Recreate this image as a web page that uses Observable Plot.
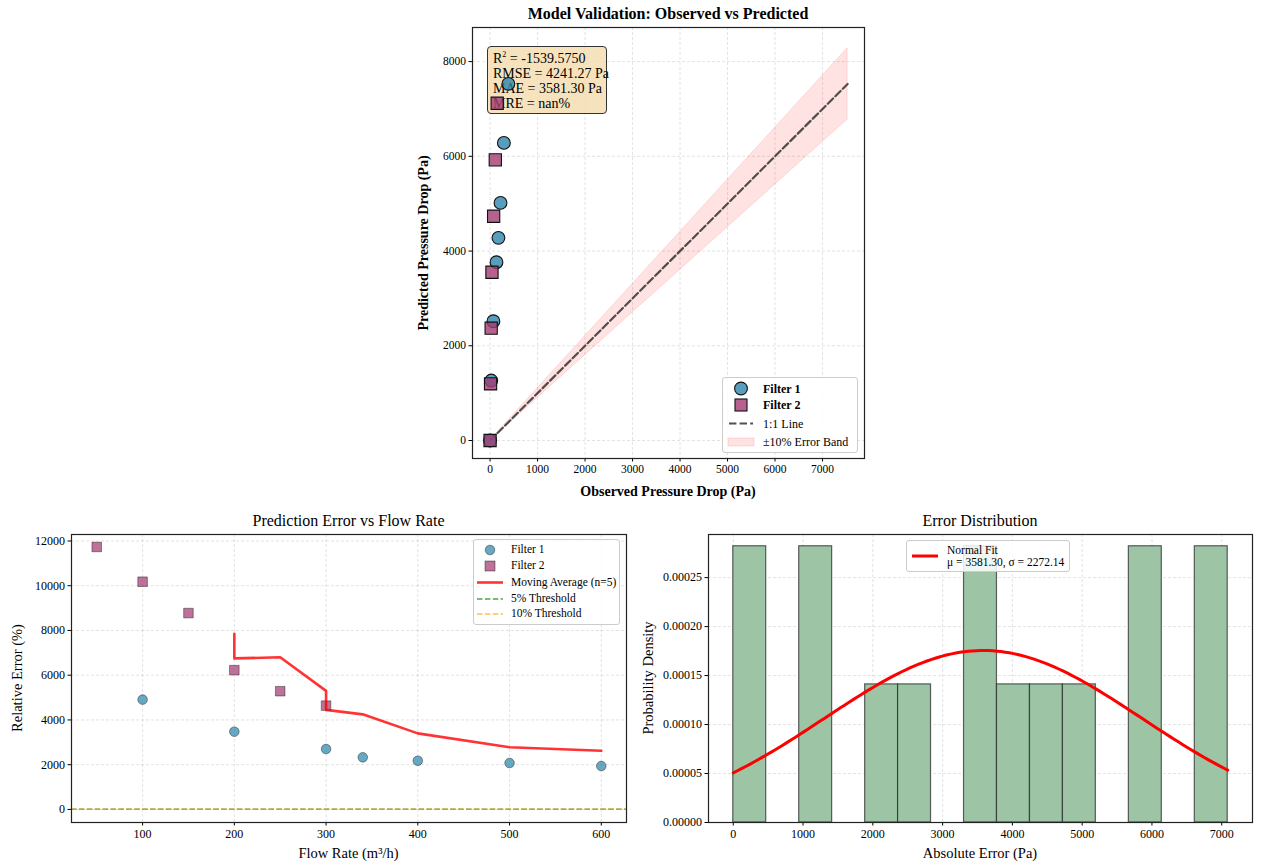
<!DOCTYPE html>
<html><head><meta charset="utf-8">
<script src="https://cdn.jsdelivr.net/npm/d3@7"></script>
<script src="https://cdn.jsdelivr.net/npm/@observablehq/plot@0.6"></script>
<style>
body{margin:0;background:#fff;font-family:"Liberation Serif","Times New Roman",serif;}
#fig{position:relative;width:1268px;height:868px;overflow:hidden;background:#fff;}
.t{position:absolute;white-space:nowrap;color:#000;line-height:1;}
.box{position:absolute;box-sizing:border-box;}
</style></head><body><div id="fig"></div>
<script>
// ---------- data ----------
const f1Observed = [0, 25, 70, 135, 176, 220, 291, 385];
const f1Predicted = [0, 1266, 2518, 3764, 4279, 5017, 6284, 7529];
const f2Observed = [0, 10, 23, 40, 75, 110, 150];
const f2Predicted = [0, 1197, 2371, 3553, 4735, 5925, 7120];
const refLineX = [0, 7529];
const refLineY = [0, 7529];
const bandLow = [0, 6776];
const bandHigh = [0, 8282];

const flowF1 = [100, 200, 300, 340, 400, 500, 600];
const relErrF1 = [4908, 3475, 2700, 2328, 2176, 2073, 1939];
const flowF2 = [50, 100, 150, 200, 250, 300];
const relErrF2 = [11733, 10179, 8777, 6225, 5284, 4640];
const maFlow = [200, 200, 250, 300, 300, 340, 400, 500, 600];
const maErr = [7850, 6750, 6800, 5300, 4450, 4250, 3400, 2780, 2620];
const thresholds = [5, 10];

const histBinStart = [0, 472, 945, 1417, 1890, 2362, 2834, 3307, 3779, 4252, 4724, 5196, 5669, 6141, 6614];
const histBinEnd   = [472, 945, 1417, 1890, 2362, 2834, 3307, 3779, 4252, 4724, 5196, 5669, 6141, 6614, 7086];
const histDensity  = [0.000282, 0, 0.000282, 0, 0.000141, 0.000141, 0, 0.000282, 0.000141, 0.000141, 0.000141, 0, 0.000282, 0, 0.000282];
const fitMu = 3581.30, fitSigma = 2272.14, fitMin = 0, fitMax = 7086;

const topXTicks = [0, 1000, 2000, 3000, 4000, 5000, 6000, 7000];
const topYTicks = [0, 2000, 4000, 6000, 8000];
const blXTicks = [100, 200, 300, 400, 500, 600];
const blYTicks = [0, 2000, 4000, 6000, 8000, 10000, 12000];
const brXTicks = [0, 1000, 2000, 3000, 4000, 5000, 6000, 7000];
const brYTicks = [0, 0.00005, 0.0001, 0.00015, 0.0002, 0.00025];

// ---------- helpers ----------
const fig = document.getElementById('fig');
const FONT = '"Liberation Serif","Times New Roman",serif';
function place(node, left, top, z) {
  node.style.position = 'absolute'; node.style.left = left + 'px'; node.style.top = top + 'px';
  if (z != null) node.style.zIndex = z;
  fig.appendChild(node); return node;
}
function addText(html, x, y, o = {}) {
  const d = document.createElement('div');
  d.className = 't'; d.innerHTML = html;
  d.style.left = x + 'px'; d.style.top = y + 'px';
  d.style.fontSize = (o.size || 12) + 'px';
  d.style.fontWeight = o.bold ? 'bold' : 'normal';
  d.style.zIndex = 10;
  let tr = o.anchor === 'start' ? 'translate(0,-50%)' : 'translate(-50%,-50%)';
  if (o.rotate) tr += ' rotate(-90deg)';
  d.style.transform = tr;
  (o.parent || fig).appendChild(d); return d;
}
const baseStyle = {fontFamily: FONT, fontSize: "11px", color: "#000", background: "none", overflow: "visible"};
const gridOpts = {stroke: "#b0b0b0", strokeOpacity: 0.45, strokeWidth: 0.8, strokeDasharray: "3,2"};
const fmtInt = d => String(d);

// ---------- top chart ----------
const f1 = f1Observed.map((o, i) => ({o, p: f1Predicted[i]}));
const f2 = f2Observed.map((o, i) => ({o, p: f2Predicted[i]}));
const topDims = {width: 500, height: 480, marginLeft: 92, marginRight: 16, marginTop: 7, marginBottom: 42,
  x: {domain: [-370, 7884]}, y: {domain: [-380, 8720]}, style: baseStyle};

const topA = Plot.plot({...topDims, marks: [
  Plot.gridX(topXTicks, gridOpts),
  Plot.gridY(topYTicks, gridOpts),
  Plot.axisX(topXTicks, {tickSize: 3.5, tickPadding: 3, label: null, tickFormat: fmtInt, fontSize: 11.5}),
  Plot.axisY(topYTicks, {tickSize: 3.5, tickPadding: 3, label: null, tickFormat: fmtInt, fontSize: 11.5})
]});
place(topA, 380, 20, 1);

// annotation box (between grid and data)
const ann = document.createElement('div');
ann.className = 'box';
Object.assign(ann.style, {width: '120px', height: '68px', background: 'rgba(245,222,179,0.85)', border: '1px solid #333', borderRadius: '4px'});
place(ann, 487, 46, 2);
const annLines = ['R<sup style="font-size:8px;vertical-align:6px">2</sup> = -1539.5750', 'RMSE = 4241.27 Pa', 'MAE = 3581.30 Pa', 'MRE = nan%'];
[10.5, 27, 42, 57].forEach((y, i) => addText(annLines[i], 5, y, {size: 14, anchor: 'start', parent: ann}));

const topB = Plot.plot({...topDims, x: {domain: [-370, 7884], axis: null}, y: {domain: [-380, 8720], axis: null}, marks: [
  Plot.areaY({length: 2}, {x: refLineX, y1: bandLow, y2: bandHigh, fill: "#ff0000", fillOpacity: 0.11, stroke: "#ff0000", strokeOpacity: 0.12}),
  Plot.line({length: 2}, {x: refLineX, y: refLineY, stroke: "#333", strokeOpacity: 0.85, strokeWidth: 2.2, strokeDasharray: "7.4,3.2"}),
  Plot.dot(f1, {x: "o", y: "p", r: 6.4, fill: "#2E86AB", fillOpacity: 0.8, stroke: "#111", strokeWidth: 1.1}),
  Plot.dot(f2, {x: "o", y: "p", symbol: "square", r: 6.9, fill: "#A23B72", fillOpacity: 0.8, stroke: "#111", strokeWidth: 1.1}),
  Plot.frame({stroke: "#222", strokeWidth: 1.2})
]});
place(topB, 380, 20, 3);

// top legend
const lg1 = document.createElement('div');
lg1.className = 'box';
Object.assign(lg1.style, {width: '136px', height: '76px', background: 'rgba(255,255,255,0.85)', border: '1px solid #ccc', borderRadius: '3px', zIndex: 5});
lg1.innerHTML = `<svg width="136" height="76" style="position:absolute;left:0;top:0">
<circle cx="18" cy="10.5" r="6.4" fill="#2E86AB" fill-opacity="0.8" stroke="#111" stroke-width="1.1"/>
<rect x="12" y="21" width="12" height="12" fill="#A23B72" fill-opacity="0.8" stroke="#111" stroke-width="1.1"/>
<line x1="6" x2="30" y1="45.5" y2="45.5" stroke="#333" stroke-opacity="0.85" stroke-width="2.2" stroke-dasharray="7.4,3.2"/>
<rect x="5" y="60" width="26" height="8" fill="#ff0000" fill-opacity="0.11" stroke="#ff0000" stroke-opacity="0.12"/>
</svg>`;
place(lg1, 722, 377, 5);
addText('Filter 1', 40, 10.5, {size: 12, anchor: 'start', parent: lg1, bold: true});
addText('Filter 2', 40, 27, {size: 12, anchor: 'start', parent: lg1, bold: true});
addText('1:1 Line', 40, 45.5, {size: 12, anchor: 'start', parent: lg1});
addText('±10% Error Band', 40, 64, {size: 12, anchor: 'start', parent: lg1});

addText('Model Validation: Observed vs Predicted', 668, 14, {size: 16, bold: true});
addText('Observed Pressure Drop (Pa)', 668, 492, {size: 14, bold: true});
addText('Predicted Pressure Drop (Pa)', 424, 242.5, {size: 14, bold: true, rotate: true});

// ---------- bottom-left chart ----------
const e1 = flowF1.map((f, i) => ({f, e: relErrF1[i]}));
const e2 = flowF2.map((f, i) => ({f, e: relErrF2[i]}));
const ma = maFlow.map((f, i) => ({f, e: maErr[i]}));
const bl = Plot.plot({width: 640, height: 330, marginLeft: 71, marginRight: 14, marginTop: 14, marginBottom: 28,
  x: {domain: [22.5, 627.5]}, y: {domain: [-585, 12290]}, style: baseStyle, marks: [
  Plot.gridX(blXTicks, gridOpts),
  Plot.gridY(blYTicks, gridOpts),
  Plot.dot(e1, {x: "f", y: "e", r: 4.8, fill: "#2E86AB", fillOpacity: 0.72, stroke: "#000", strokeOpacity: 0.55, strokeWidth: 0.7}),
  Plot.dot(e2, {x: "f", y: "e", symbol: "square", r: 5.4, fill: "#A23B72", fillOpacity: 0.72, stroke: "#000", strokeOpacity: 0.55, strokeWidth: 0.7}),
  Plot.line(ma, {x: "f", y: "e", stroke: "#ff0000", strokeOpacity: 0.8, strokeWidth: 2.6}),
  Plot.ruleY([thresholds[0]], {stroke: "#008000", strokeOpacity: 0.7, strokeWidth: 1.5, strokeDasharray: "5.5,2.4"}),
  Plot.ruleY([thresholds[1]], {stroke: "#ffa500", strokeOpacity: 0.7, strokeWidth: 1.5, strokeDasharray: "5.5,2.4"}),
  Plot.axisX(blXTicks, {tickSize: 3.5, tickPadding: 3, label: null, tickFormat: fmtInt, fontSize: 12}),
  Plot.axisY(blYTicks, {tickSize: 3.5, tickPadding: 3, label: null, tickFormat: fmtInt, fontSize: 12}),
  Plot.frame({stroke: "#222", strokeWidth: 1.2})
]});
place(bl, 0, 520, 1);

const lg2 = document.createElement('div');
lg2.className = 'box';
Object.assign(lg2.style, {width: '147px', height: '86px', background: 'rgba(255,255,255,0.85)', border: '1px solid #ccc', borderRadius: '3px'});
lg2.innerHTML = `<svg width="147" height="86" style="position:absolute;left:0;top:0">
<circle cx="16" cy="10" r="4.8" fill="#2E86AB" fill-opacity="0.72" stroke="#000" stroke-opacity="0.55" stroke-width="0.7"/>
<rect x="11" y="21" width="10" height="10" fill="#A23B72" fill-opacity="0.72" stroke="#000" stroke-opacity="0.55" stroke-width="0.7"/>
<line x1="3" x2="29" y1="42.5" y2="42.5" stroke="#ff0000" stroke-opacity="0.8" stroke-width="2.6"/>
<line x1="3" x2="29" y1="59" y2="59" stroke="#008000" stroke-opacity="0.7" stroke-width="1.5" stroke-dasharray="5.5,2.4"/>
<line x1="3" x2="29" y1="74" y2="74" stroke="#ffa500" stroke-opacity="0.7" stroke-width="1.5" stroke-dasharray="5.5,2.4"/>
</svg>`;
place(lg2, 473, 539, 5);
[['Filter 1', 10], ['Filter 2', 26], ['Moving Average (n=5)', 42.5], ['5% Threshold', 59], ['10% Threshold', 74]]
  .forEach(([t, y]) => addText(t, 37, y, {size: 11.5, anchor: 'start', parent: lg2}));

addText('Prediction Error vs Flow Rate', 348.5, 521, {size: 16});
addText('Flow Rate (m³/h)', 348.5, 853, {size: 14.5});
addText('Relative Error (%)', 17, 678, {size: 14.5, rotate: true});

// ---------- bottom-right chart ----------
const bins = histBinStart.map((x0, i) => ({x0, x1: histBinEnd[i], d: histDensity[i]})).filter(b => b.d > 0);
const fitX = d3.range(0, 121).map(i => fitMin + (fitMax - fitMin) * i / 120);
const fit = fitX.map(x => ({x, y: Math.exp(-0.5 * ((x - fitMu) / fitSigma) ** 2) / (fitSigma * Math.sqrt(2 * Math.PI))}));
const br = Plot.plot({width: 628, height: 330, marginLeft: 68, marginRight: 16, marginTop: 14, marginBottom: 28,
  x: {domain: [-355, 7441]}, y: {domain: [0, 0.000294]}, style: baseStyle, marks: [
  Plot.gridX(brXTicks, gridOpts),
  Plot.gridY(brYTicks, gridOpts),
  Plot.rectY(bins, {x1: "x0", x2: "x1", y: "d", fill: "#9CC4A5", stroke: "#222", strokeOpacity: 0.7, strokeWidth: 1.2}),
  Plot.line(fit, {x: "x", y: "y", stroke: "#ff0000", strokeWidth: 3}),
  Plot.axisX(brXTicks, {tickSize: 3.5, tickPadding: 3, label: null, tickFormat: fmtInt, fontSize: 12}),
  Plot.axisY(brYTicks, {tickSize: 3.5, tickPadding: 3, label: null, tickFormat: d => d.toFixed(5), fontSize: 12}),
  Plot.frame({stroke: "#222", strokeWidth: 1.2})
]});
place(br, 640, 520, 1);

const lg3 = document.createElement('div');
lg3.className = 'box';
Object.assign(lg3.style, {width: '164px', height: '32px', background: 'rgba(255,255,255,0.85)', border: '1px solid #ccc', borderRadius: '3px'});
lg3.innerHTML = `<svg width="164" height="32" style="position:absolute;left:0;top:0">
<line x1="5" x2="31" y1="15" y2="15" stroke="#ff0000" stroke-width="3"/></svg>`;
place(lg3, 906, 540, 5);
addText('Normal Fit', 40, 9.5, {size: 11.5, anchor: 'start', parent: lg3});
addText('μ = 3581.30, σ = 2272.14', 40, 22, {size: 11.5, anchor: 'start', parent: lg3});

addText('Error Distribution', 980, 521, {size: 16});
addText('Absolute Error (Pa)', 980, 853, {size: 14.5});
addText('Probability Density', 648, 678, {size: 14.5, rotate: true});
</script></body></html>
